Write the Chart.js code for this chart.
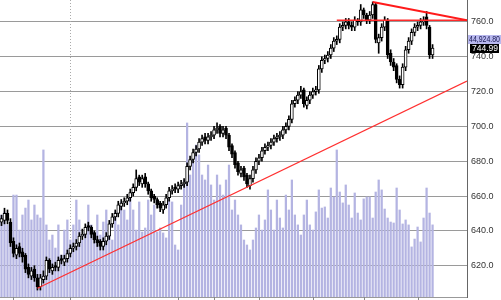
<!DOCTYPE html>
<html>
<head>
<meta charset="utf-8">
<script src="https://cdn.jsdelivr.net/npm/chart.js@4/dist/chart.umd.min.js"></script>
<style>
  html,body{margin:0;padding:0;background:#fff;}
  #wrap{width:501px;height:300px;position:relative;}
</style>
</head>
<body>
<div id="wrap"><canvas id="c"></canvas></div>
<script>
// price bars, oldest first
const opens=[645,646,650,645,634,626,631,628,626,619,614,618,613,608,612,614,623,617,620,619,624,622,624,627,630,631,633,637,638,643,642,639,635,634,631,634,637,644,648,650,654,656,657,659,662,665,671,667,671,667,663,660,658,656,652,655,659,663,665,664,666,667,668,677,681,685,687,691,694,692,694,695,698,700,696,699,695,689,685,679,673,676,672,666,670,675,680,682,686,688,689,691,693,694,695,698,700,704,713,715,718,721,712,715,718,720,721,733,738,739,741,745,749,750,757,758,760,758,757,761,760,767,764,761,764,770,748,751,757,761,742,737,735,727,724,734,744,749,754,757,758,760,763,757,741];
const highs=[649,653,652,647,636,632,633,630,627,621,619,620,615,615,617,625,624,621,622,625,626,626,629,632,633,635,639,641,644,645,643,640,637,635,636,639,646,650,652,657,658,659,661,664,667,675,672,672,673,668,664,661,659,657,657,661,665,666,667,668,669,670,679,683,687,689,693,695,696,696,697,700,702,701,700,700,696,690,686,680,677,677,673,672,677,682,684,688,690,691,693,695,696,697,700,702,706,715,717,720,723,722,717,720,722,723,735,740,741,743,747,751,752,759,760,762,762,760,763,762,770,768,765,766,771.5,771,753,759,763,762,744,739,736,729,736,746,751,756,759,760,762,763,766,758,747];
const lows=[643,644,644,631,625,624,625,622,616,613,612,611,606,606,610,612,616,615,617,617,621,620,622,625,628,629,631,635,636,640,636,633,631,629,629,632,635,642,646,648,652,654,655,657,660,663,666,665,665,661,657,656,653,651,650,653,657,661,662,662,664,665,666,675,679,683,685,689,690,690,692,693,696,694,694,693,686,682,676,672,671,669,665,664,668,673,678,680,684,686,687,689,691,692,693,696,698,702,711,713,716,711,710,713,716,718,719,731,736,737,739,743,747,748,755,756,756,755,755,758,758,762,759,759,762,748,742,749,755,739,735,732,725,722,722,732,742,747,752,755,756,758,756,739,739];
const closes=[647,650,646,633,627,630,627,625,618,615,617,613,608,613,614,623,618,619,619,623,623,624,627,630,631,633,637,638,642,642,638,635,633,631,634,637,644,648,650,655,656,657,659,662,665,670,668,670,667,663,659,658,655,653,655,659,663,664,664,666,667,668,677,681,685,687,691,693,692,694,695,698,699,696,698,695,688,684,678,674,675,671,667,670,675,680,682,686,688,689,691,693,694,695,698,700,704,713,715,718,720,713,715,718,720,721,733,738,739,741,745,749,750,757,758,760,758,757,761,760,767,764,761,764,770,750,751,757,761,741,737,734,727,724,734,744,749,754,757,758,760,761,758,741,744.99];
const volumes=[51100,53000,44900,35500,63500,63500,41700,51100,55400,60400,48000,57300,51100,49200,91600,44900,35500,38600,30500,44900,26200,41700,48000,35500,44900,60400,48000,35500,41700,57300,44900,40500,51100,38600,46700,54200,38600,35500,53000,44900,59200,54200,48000,63500,54200,41700,59200,40500,43000,60400,51100,57300,40500,43000,39900,36800,60400,59200,32400,29300,57300,72900,108400,76000,85400,94700,88500,76000,72900,82200,69800,60400,76000,69800,63500,72900,82200,54200,60400,51100,44900,35500,32400,29300,35500,43000,51100,41700,48000,66700,54200,41700,60400,49200,43000,63500,54200,72900,51100,44900,38600,51100,60400,44900,41700,53000,66700,55400,56100,49200,67900,62300,91600,65400,58600,69800,57300,49200,64800,52300,48000,61100,62300,62300,49200,65400,72900,66700,54800,49200,46700,46100,67900,54200,45500,48000,44900,31200,36100,43600,34300,49200,67900,52300,44924.8];
// trend lines drawn on the chart: [bar index, price]
const supportLine=[[12,607],[155.5,726]];
const resistLine=[[124,771.5],[155.5,761]];
const flatLine=[[112,761],[155.5,761]];
const priceTicks=[620,640,660,680,700,720,740,760];
const timeTicks=[4,23,59,71,86,104,121,139];
const yearBreak=23;
const lastVolLabel='44,924.80';

const idx=closes.map((_,i)=>i);
const pts=a=>a.map(p=>({x:p[0],y:p[1]}));
const FONT='"Liberation Sans", Arial, sans-serif';

// tick marks under the time axis + dotted year separator, tags on the price axis
const extras={
  id:'extras',
  beforeDatasetsDraw(ch){
    const c=ch.ctx, x=ch.scales.x, a=ch.chartArea;
    c.save();
    c.strokeStyle='#aaa'; c.lineWidth=1; c.setLineDash([1,2]);
    const bx=Math.round(x.getPixelForValue(yearBreak))+0.5;
    c.beginPath(); c.moveTo(bx,a.top); c.lineTo(bx,a.bottom); c.stroke();
    c.setLineDash([]); c.strokeStyle='#888';
    timeTicks.forEach(v=>{const px=Math.round(x.getPixelForValue(v))+0.5;c.beginPath();c.moveTo(px,a.bottom);c.lineTo(px,a.bottom+3);c.stroke();});
    c.restore();
  },
  afterDraw(ch){
    const c=ch.ctx, y=ch.scales.y, a=ch.chartArea;
    const last=closes[closes.length-1];
    const py=Math.round(y.getPixelForValue(last));
    c.save();
    c.textBaseline='middle';
    c.font='9px '+FONT;
    c.fillStyle='#b8b8ee';
    c.fillRect(a.right+1,py-13,33,9);
    c.fillStyle='#20205a';
    c.fillText(lastVolLabel,a.right+2,py-8.5,31);
    c.fillStyle='#000';
    c.fillRect(a.right+3,py-4,29,9);
    c.fillStyle='#fff';
    c.fillText(last.toFixed(2),a.right+5,py+0.5,26);
    c.restore();
  }
};

new Chart(document.getElementById('c'),{
  type:'bar',
  data:{datasets:[
    {type:'line',data:pts(supportLine),borderColor:'#ff3030',borderWidth:1.2,pointRadius:0,order:1},
    {type:'line',data:pts(resistLine),borderColor:'#ff1a1a',borderWidth:2,pointRadius:0,order:1},
    {type:'line',data:pts(flatLine),borderColor:'#ff2a2a',borderWidth:1.5,pointRadius:0,order:1},
    {data:idx.map(i=>({x:i,y:[opens[i],closes[i]]})),barThickness:3,grouped:false,borderSkipped:false,borderWidth:1,borderColor:'#000',
      backgroundColor:ctx=>{const i=ctx.dataIndex;return closes[i]>=opens[i]?'#fff':'#000';},order:2},
    {data:idx.map(i=>({x:i,y:[lows[i],highs[i]]})),barThickness:1,grouped:false,backgroundColor:'#000',order:3},
    {data:idx.map(i=>({x:i,y:volumes[i]})),yAxisID:'yv',barThickness:1.6,grouped:false,backgroundColor:'#b4b4e2',order:4}
  ]},
  options:{
    responsive:true,maintainAspectRatio:false,animation:false,devicePixelRatio:1,
    layout:{padding:0},
    plugins:{legend:{display:false},tooltip:{enabled:false}},
    scales:{
      x:{type:'linear',min:-0.5,max:155.5,offset:false,
        afterFit:s=>{s.height=3;s.paddingLeft=0;s.paddingRight=0;},
        ticks:{display:false},
        grid:{display:false},
        border:{display:true,color:'#999'}},
      y:{position:'right',min:602,max:772.6,
        afterBuildTicks:s=>{s.ticks=priceTicks.map(v=>({value:v}));},
        afterFit:s=>{s.width=34;s.paddingTop=0;s.paddingBottom=0;},
        ticks:{padding:4,color:'#333',font:{family:FONT,size:9},callback:v=>Number(v).toFixed(1)},
        grid:{color:'#9a9a9a',borderDash:[1,2],drawTicks:false},
        border:{display:true,color:'#666'}},
      yv:{display:false,min:0,max:185000}
    }
  },
  plugins:[extras]
});
</script>
</body>
</html>
